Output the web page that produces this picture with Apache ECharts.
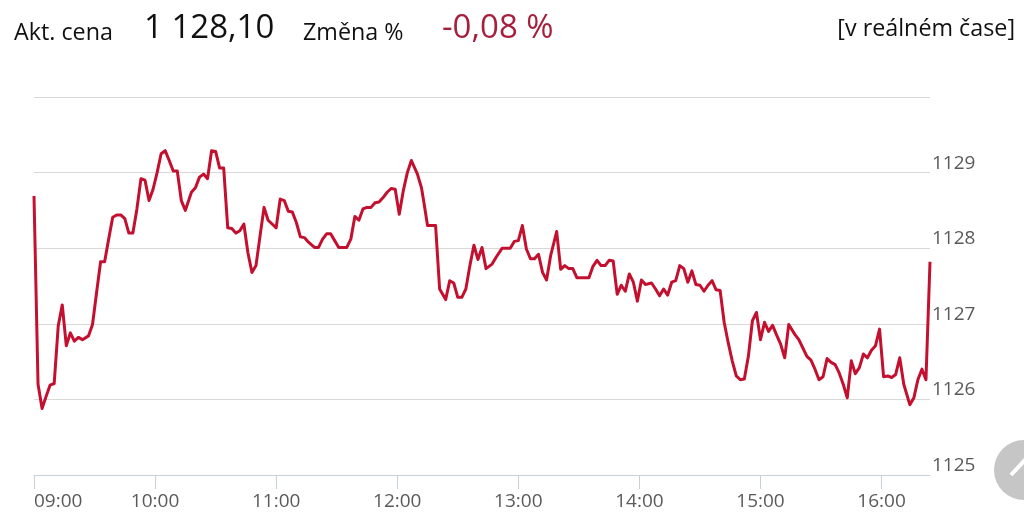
<!DOCTYPE html>
<html>
<head>
<meta charset="utf-8">
<script src="https://cdn.jsdelivr.net/npm/echarts@6/dist/echarts.min.js"></script>
<style>
html,body{margin:0;padding:0;background:#fff;}
#chart{width:1024px;height:516px;}
</style>
</head>
<body>
<div id="chart"></div>
<script>
// ---- data ----
var times = [
'09:00','09:02','09:04','09:06','09:08','09:10','09:12','09:14','09:16','09:18',
'09:20','09:22','09:24','09:27','09:29','09:31','09:33','09:35','09:37','09:39',
'09:41','09:43','09:45','09:47','09:49','09:51','09:53','09:55','09:57','09:59',
'10:01','10:03','10:05','10:07','10:09','10:11','10:13','10:15','10:18','10:20',
'10:22','10:24','10:26','10:28','10:30','10:32','10:34','10:36','10:38','10:40',
'10:42','10:44','10:46','10:48','10:50','10:52','10:54','10:56','10:58','11:00',
'11:02','11:04','11:06','11:08','11:10','11:12','11:14','11:16','11:19','11:21',
'11:23','11:25','11:27','11:29','11:31','11:33','11:35','11:37','11:39','11:41',
'11:43','11:45','11:47','11:49','11:51','11:53','11:55','11:57','11:59','12:01',
'12:03','12:05','12:07','12:10','12:12','12:13','12:15','12:17','12:19','12:21',
'12:24','12:26','12:28','12:30','12:32','12:34','12:36','12:38','12:40','12:42',
'12:44','12:47','12:49','12:52','12:54','12:56','12:58','13:00','13:02','13:04',
'13:06','13:08','13:10','13:12','13:14','13:16','13:19','13:21','13:23','13:25',
'13:27','13:29','13:31','13:33','13:35','13:37','13:39','13:41','13:43','13:45',
'13:47','13:49','13:51','13:53','13:55','13:57','13:59','14:01','14:03','14:06',
'14:08','14:10','14:12','14:14','14:16','14:18','14:20','14:22','14:24','14:26',
'14:28','14:30','14:32','14:34','14:36','14:38','14:40','14:42','14:44','14:46',
'14:48','14:50','14:52','14:54','14:56','14:58','15:00','15:02','15:04','15:06',
'15:08','15:10','15:12','15:14','15:17','15:19','15:21','15:23','15:25','15:27',
'15:29','15:31','15:33','15:35','15:37','15:39','15:41','15:43','15:45','15:47',
'15:49','15:51','15:53','15:55','15:57','15:59','16:01','16:03','16:05','16:07',
'16:09','16:11','16:14','16:16','16:18','16:20','16:22','16:24'
];
var prices = [
1128.69,1126.20,1125.88,1126.04,1126.19,1126.21,1126.97,1127.25,1126.71,1126.88,
1126.77,1126.82,1126.79,1126.84,1126.99,1127.41,1127.82,1127.82,1128.12,1128.41,
1128.44,1128.44,1128.39,1128.20,1128.20,1128.52,1128.92,1128.90,1128.63,1128.78,
1129.00,1129.25,1129.29,1129.16,1129.02,1129.02,1128.63,1128.50,1128.74,1128.80,
1128.94,1128.98,1128.92,1129.29,1129.28,1129.06,1129.06,1128.27,1128.26,1128.20,
1128.23,1128.32,1127.94,1127.68,1127.77,1128.16,1128.54,1128.37,1128.32,1128.27,
1128.65,1128.63,1128.49,1128.48,1128.34,1128.15,1128.14,1128.08,1128.01,1128.01,
1128.12,1128.19,1128.19,1128.10,1128.01,1128.01,1128.01,1128.12,1128.42,1128.37,
1128.52,1128.54,1128.54,1128.60,1128.61,1128.67,1128.74,1128.79,1128.78,1128.45,
1128.76,1129.00,1129.16,1128.98,1128.80,1128.64,1128.30,1128.30,1128.30,1127.46,
1127.32,1127.57,1127.54,1127.35,1127.35,1127.46,1127.77,1128.04,1127.85,1128.01,
1127.73,1127.79,1127.88,1128.00,1128.00,1128.00,1128.09,1128.10,1128.30,1127.99,
1127.86,1127.86,1127.92,1127.68,1127.58,1127.90,1128.22,1127.72,1127.77,1127.73,
1127.73,1127.61,1127.61,1127.61,1127.61,1127.76,1127.84,1127.77,1127.77,1127.84,
1127.83,1127.39,1127.51,1127.43,1127.66,1127.55,1127.30,1127.58,1127.52,1127.54,
1127.46,1127.37,1127.46,1127.38,1127.55,1127.57,1127.77,1127.73,1127.55,1127.70,
1127.52,1127.51,1127.43,1127.51,1127.57,1127.45,1127.44,1127.02,1126.75,1126.51,
1126.31,1126.26,1126.27,1126.57,1127.04,1127.15,1126.79,1127.02,1126.90,1126.98,
1126.85,1126.73,1126.55,1126.99,1126.86,1126.79,1126.68,1126.57,1126.52,1126.40,
1126.26,1126.30,1126.54,1126.49,1126.46,1126.35,1126.20,1126.02,1126.51,1126.34,
1126.42,1126.60,1126.55,1126.65,1126.71,1126.93,1126.30,1126.31,1126.29,1126.33,
1126.55,1126.20,1125.93,1126.02,1126.26,1126.40,1126.26,1127.82
];
var hourLabels = ['09:00','10:00','11:00','12:00','13:00','14:00','15:00','16:00'];
var sessionStart = '09:00';
var sessionEnd = '16:24';
var priceLabels = [1125, 1126, 1127, 1128, 1129];
var headerTexts = {
  priceLabel: 'Akt. cena',
  price: '1 128,10',
  changeLabel: 'Změna %',
  change: '-0,08 %',
  realtime: '[v reálném čase]'
};

// ---- helpers ----
function toMin(t){ var p=t.split(':'); return (+p[0])*60 + (+p[1]); }
var base = toMin(sessionStart);
function fmt(m){ var tot=Math.round(m+base); var h=Math.floor(tot/60), mm=tot%60; return (h<10?'0':'')+h+':'+(mm<10?'0':'')+mm; }
var tickVals = hourLabels.map(function(t){ return toMin(t)-base; });
var seriesData = times.map(function(t,i){ return [toMin(t)-base, prices[i]]; });

var FONT = '"Open Sans", sans-serif';
var chart = echarts.init(document.getElementById('chart'), null, {renderer:'canvas'});
chart.setOption({
  animation: false,
  backgroundColor: '#ffffff',
  grid: {left: 34, right: 94, top: 97, bottom: 41},
  xAxis: {
    type: 'value',
    min: 0,
    max: toMin(sessionEnd)-base,
    interval: 60,
    axisLine: {show: true, lineStyle: {color: '#c8d0da', width: 1}},
    axisTick: {show: true, length: 14, customValues: tickVals, lineStyle: {color: '#c8d0da', width: 1}},
    axisLabel: {
      customValues: tickVals,
      formatter: function(v){ return fmt(v); },
      color: '#5a5a5a', fontSize: 19, fontFamily: FONT, margin: 17,
      alignMinLabel: 'left'
    },
    splitLine: {show: false}
  },
  yAxis: {
    type: 'value',
    position: 'right',
    min: 1125, max: 1130, interval: 1,
    axisLine: {show: false},
    axisTick: {show: false},
    axisLabel: {
      formatter: function(v){ return priceLabels.indexOf(v) >= 0 ? String(v) : ''; },
      color: '#5a5a5a', fontSize: 19, fontFamily: FONT, margin: 2,
      verticalAlign: 'bottom'
    },
    splitLine: {show: true, lineStyle: {color: '#d8d8d8', width: 1}}
  },
  series: [{
    type: 'line',
    data: seriesData,
    showSymbol: false,
    smooth: false,
    lineStyle: {color: '#c3102f', width: 3, join: 'round'},
    z: 3
  }],
  graphic: [
    {type:'text', left: 14, top: 22, style:{text: headerTexts.priceLabel, font: '23.3px "Open Sans"', fill:'#111'}},
    {type:'text', left: 144, top: 12, style:{text: headerTexts.price, font: '33px "Open Sans"', fill:'#111'}},
    {type:'text', left: 303, top: 22, style:{text: headerTexts.changeLabel, font: '23.3px "Open Sans"', fill:'#111'}},
    {type:'text', left: 442, top: 12, style:{text: headerTexts.change, font: '33px "Open Sans"', fill:'#a61f3b'}},
    {type:'text', right: 9, top: 18, style:{text: headerTexts.realtime, font: '23.3px "Open Sans"', fill:'#111'}},
    {type:'circle', shape:{cx:1024, cy:470, r:30}, style:{fill:'#c6c6c6'}},
    {type:'polyline', shape:{points:[[1011,475],[1024,461],[1037,475]]}, style:{stroke:'#ffffff', lineWidth:4, fill:null}}
  ]
});
</script>
</body>
</html>
